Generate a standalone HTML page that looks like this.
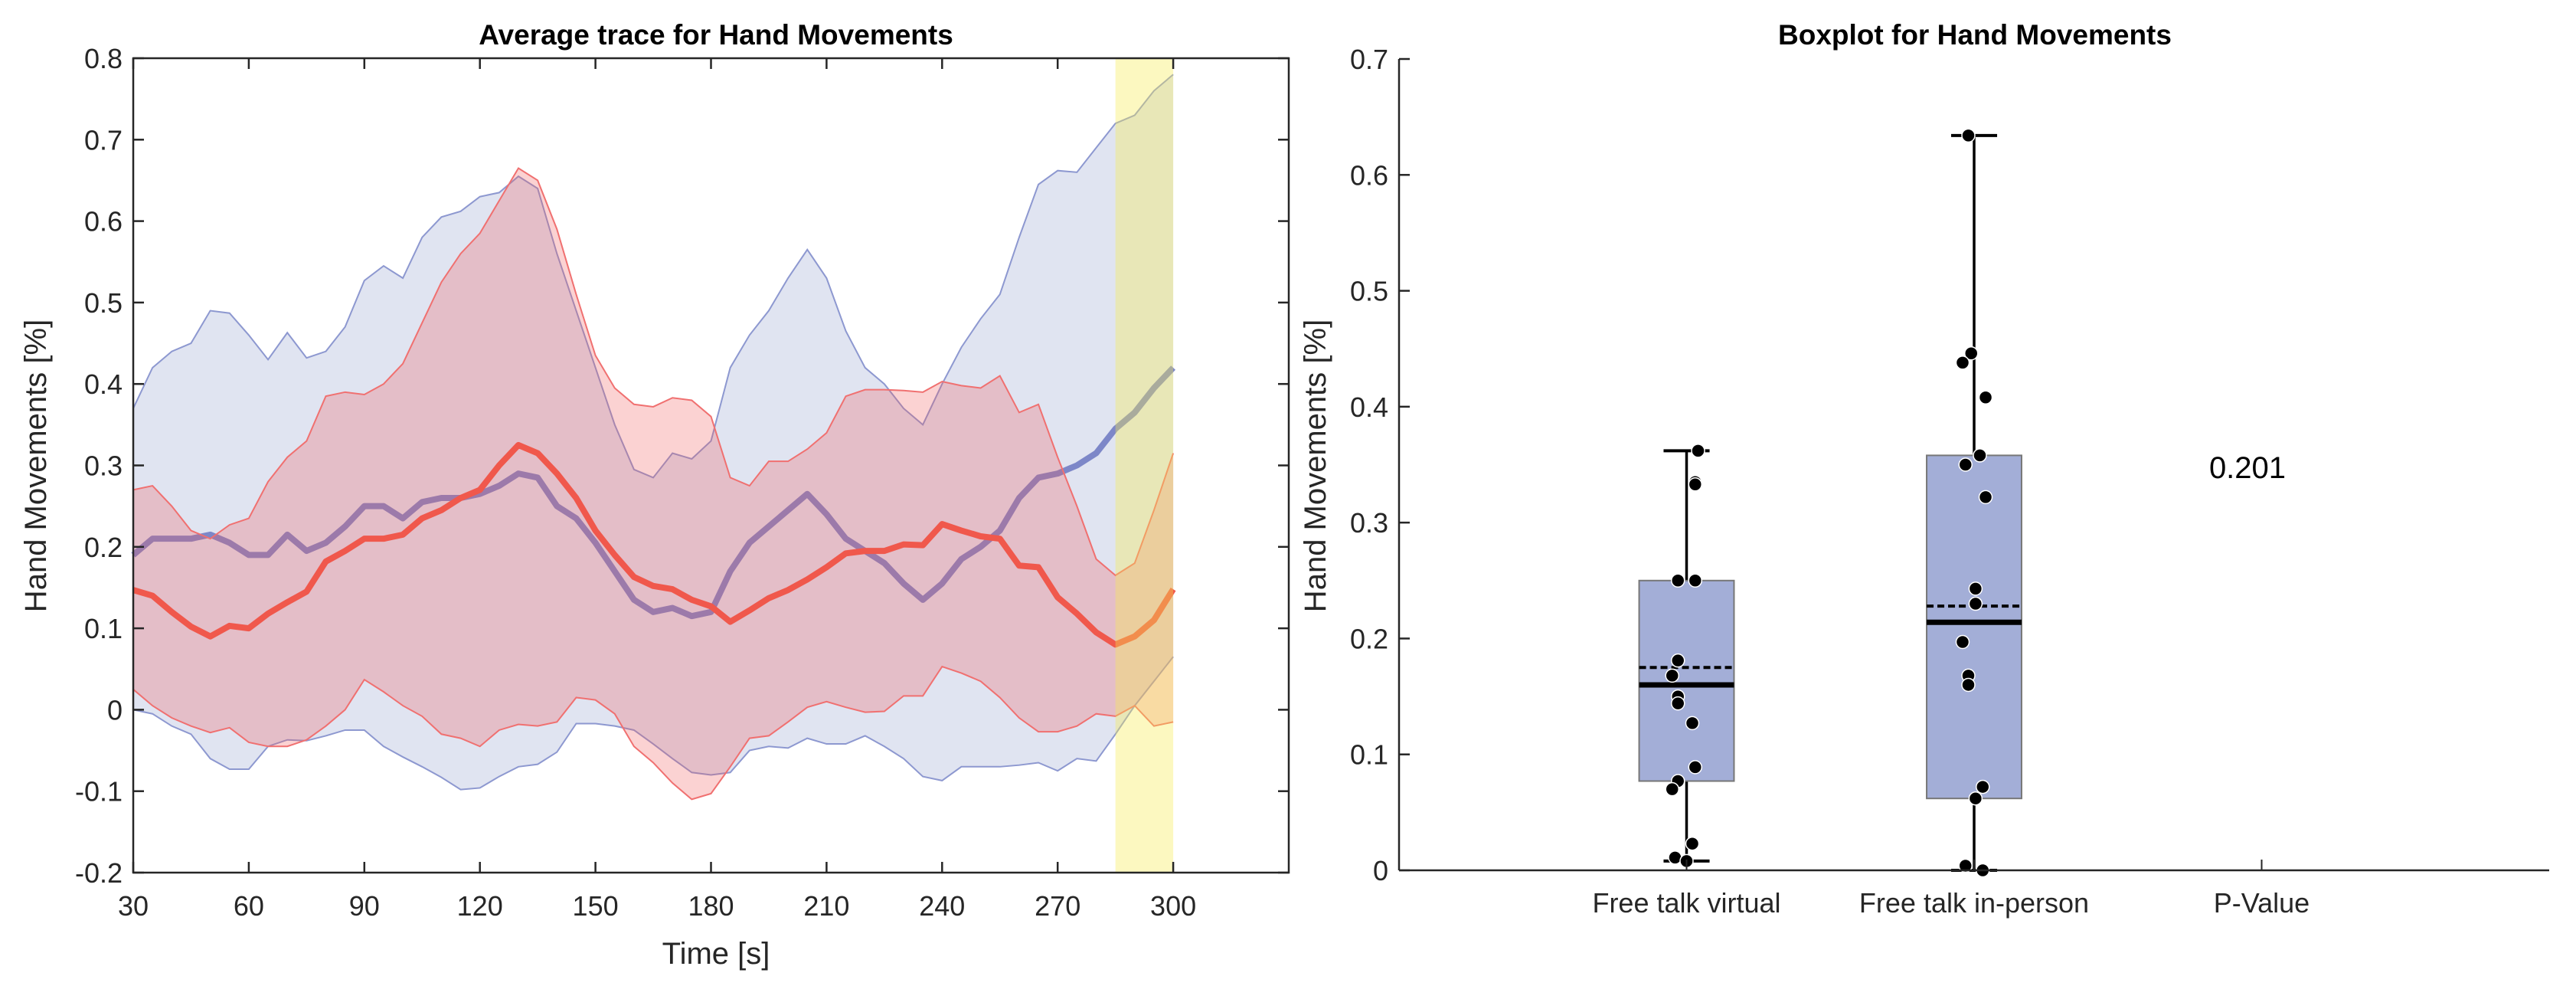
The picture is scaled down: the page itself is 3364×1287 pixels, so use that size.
<!DOCTYPE html>
<html><head><meta charset="utf-8"><style>
html,body{margin:0;padding:0;background:#fff;}
svg{display:block;font-family:"Liberation Sans",Arial,sans-serif;}
</style></head><body>
<svg id="chart" width="3364" height="1287" viewBox="0 0 3364 1287"></svg>
<script>
// ---- Left chart data ----
const times = [30,35,40,45,50,55,60,65,70,75,80,85,90,95,100,105,110,115,120,125,130,135,140,145,150,155,160,165,170,175,180,185,190,195,200,205,210,215,220,225,230,235,240,245,250,255,260,265,270,275,280,285,290,295,300];
const blueMean = [0.19,0.21,0.21,0.21,0.215,0.205,0.19,0.19,0.215,0.195,0.205,0.225,0.25,0.25,0.235,0.255,0.26,0.26,0.265,0.275,0.29,0.285,0.25,0.235,0.205,0.17,0.135,0.12,0.125,0.115,0.12,0.17,0.205,0.225,0.245,0.265,0.24,0.21,0.195,0.18,0.155,0.135,0.155,0.185,0.2,0.22,0.26,0.285,0.29,0.3,0.315,0.345,0.365,0.395,0.42];
const redMean = [0.147,0.14,0.12,0.102,0.09,0.103,0.1,0.118,0.132,0.145,0.182,0.195,0.21,0.21,0.215,0.235,0.245,0.26,0.27,0.3,0.325,0.315,0.29,0.26,0.22,0.19,0.163,0.152,0.148,0.135,0.127,0.108,0.122,0.137,0.147,0.16,0.175,0.192,0.195,0.195,0.203,0.202,0.228,0.22,0.213,0.21,0.177,0.175,0.138,0.118,0.095,0.08,0.09,0.11,0.148];
const blueUpper = [0.37,0.42,0.44,0.45,0.49,0.487,0.46,0.43,0.463,0.432,0.44,0.47,0.527,0.545,0.53,0.58,0.605,0.612,0.63,0.635,0.655,0.64,0.56,0.49,0.42,0.35,0.295,0.285,0.315,0.308,0.33,0.42,0.46,0.49,0.53,0.565,0.53,0.465,0.42,0.4,0.37,0.35,0.4,0.445,0.48,0.51,0.58,0.645,0.662,0.66,0.69,0.72,0.73,0.76,0.78];
const blueLower = [0.0,-0.005,-0.02,-0.03,-0.06,-0.073,-0.073,-0.045,-0.037,-0.038,-0.032,-0.025,-0.025,-0.045,-0.058,-0.07,-0.083,-0.098,-0.096,-0.082,-0.07,-0.067,-0.052,-0.017,-0.017,-0.02,-0.025,-0.042,-0.06,-0.077,-0.08,-0.077,-0.05,-0.045,-0.047,-0.035,-0.042,-0.042,-0.032,-0.045,-0.06,-0.082,-0.087,-0.07,-0.07,-0.07,-0.068,-0.065,-0.075,-0.06,-0.063,-0.03,0.005,0.035,0.065];
const redUpper = [0.27,0.275,0.25,0.22,0.21,0.227,0.235,0.28,0.31,0.33,0.385,0.39,0.387,0.4,0.425,0.475,0.525,0.56,0.585,0.625,0.665,0.65,0.59,0.51,0.435,0.395,0.375,0.372,0.383,0.38,0.36,0.285,0.275,0.305,0.305,0.32,0.34,0.385,0.393,0.393,0.392,0.39,0.403,0.398,0.395,0.41,0.365,0.375,0.31,0.25,0.185,0.165,0.18,0.245,0.315];
const redLower = [0.025,0.005,-0.01,-0.02,-0.028,-0.022,-0.04,-0.045,-0.045,-0.037,-0.02,0.0,0.037,0.022,0.005,-0.008,-0.03,-0.035,-0.045,-0.025,-0.018,-0.02,-0.015,0.015,0.012,-0.005,-0.045,-0.065,-0.09,-0.11,-0.103,-0.07,-0.035,-0.032,-0.015,0.003,0.01,0.003,-0.003,-0.002,0.017,0.017,0.053,0.045,0.035,0.015,-0.01,-0.027,-0.027,-0.02,-0.005,-0.008,0.005,-0.02,-0.015];
const highlightRange = [285,300];
const leftXTicks = [30,60,90,120,150,180,210,240,270,300];
const leftYTicks = [-0.2,-0.1,0,0.1,0.2,0.3,0.4,0.5,0.6,0.7,0.8];

// ---- Right chart data ----
const categories = ["Free talk virtual","Free talk in-person","P-Value"];
const boxQ1 = [0.077,0.062];
const boxQ3 = [0.25,0.358];
const boxMedian = [0.16,0.214];
const boxMean = [0.175,0.228];
const whiskLow = [0.008,0.0];
const whiskHigh = [0.362,0.634];
const pointsVirtual = [0.362,0.335,0.333,0.25,0.25,0.181,0.168,0.15,0.144,0.127,0.089,0.077,0.07,0.023,0.011,0.008];
const jitterVirtual = [0.04,0.03,0.03,-0.03,0.03,-0.03,-0.05,-0.03,-0.03,0.02,0.03,-0.03,-0.05,0.02,-0.04,0.0];
const pointsInPerson = [0.634,0.446,0.438,0.408,0.358,0.35,0.322,0.243,0.23,0.197,0.168,0.16,0.072,0.062,0.004,0.0];
const jitterInPerson = [-0.02,-0.01,-0.04,0.04,0.02,-0.03,0.04,0.005,0.005,-0.04,-0.02,-0.02,0.03,0.005,-0.03,0.03];
const pValueText = "0.201";
const rightYTicks = [0,0.1,0.2,0.3,0.4,0.5,0.6,0.7];

const NS = "http://www.w3.org/2000/svg";
const svg = document.getElementById("chart");
function mk(tag, attrs, parent, text) {
  const e = document.createElementNS(NS, tag);
  for (const k in attrs) e.setAttribute(k, attrs[k]);
  if (text !== undefined) e.textContent = text;
  (parent || svg).appendChild(e);
  return e;
}

// ===== LEFT =====
const L = {x0:174, x1:1683, y0:76, y1:1139};
const lx = t => L.x0 + (t - 30) / (330 - 30) * (L.x1 - L.x0);
const ly = v => L.y1 - (v + 0.2) / 1.0 * (L.y1 - L.y0);
const gL = mk("g", {});



function bandPath(up, lo) {
  let d = "M" + times.map((t,i)=>lx(t)+","+ly(up[i])).join("L");
  for (let i = times.length-1; i >= 0; i--) d += "L" + lx(times[i]) + "," + ly(lo[i]);
  return d + "Z";
}
function linePath(arr) { return "M" + times.map((t,i)=>lx(t)+","+ly(arr[i])).join("L"); }

let e;
e = mk("path", {d: bandPath(blueUpper, blueLower), fill:"rgb(160,170,210)", "fill-opacity":0.32, stroke:"none"}, gL);


e = mk("path", {d: linePath(blueUpper), fill:"none", stroke:"#8d98d0", "stroke-width":2}, gL);


e = mk("path", {d: linePath(blueLower), fill:"none", stroke:"#8d98d0", "stroke-width":2}, gL);


e = mk("path", {d: linePath(blueMean), fill:"none", stroke:"rgb(125,135,200)", "stroke-width":8, "stroke-linejoin":"round"}, gL);


e = mk("path", {d: bandPath(redUpper, redLower), fill:"rgb(240,90,90)", "fill-opacity":0.27, stroke:"none"}, gL);


e = mk("path", {d: linePath(redUpper), fill:"none", stroke:"#f07070", "stroke-width":2}, gL);


e = mk("path", {d: linePath(redLower), fill:"none", stroke:"#f07070", "stroke-width":2}, gL);


e = mk("path", {d: linePath(redMean), fill:"none", stroke:"#f0584c", "stroke-width":8, "stroke-linejoin":"round"}, gL);


e = mk("rect", {x: lx(highlightRange[0]), y: L.y0, width: lx(highlightRange[1]) - lx(highlightRange[0]), height: L.y1 - L.y0, fill:"rgb(248,236,80)", "fill-opacity":0.36}, gL);



e = mk("rect", {x:L.x0, y:L.y0, width:L.x1-L.x0, height:L.y1-L.y0, fill:"none", stroke:"#262626", "stroke-width":2.5}, gL);


leftXTicks.forEach(t => {
  const x = lx(t);
  mk("line", {x1:x, x2:x, y1:L.y1, y2:L.y1-14, stroke:"#262626", "stroke-width":2.5}, gL);
  mk("line", {x1:x, x2:x, y1:L.y0, y2:L.y0+14, stroke:"#262626", "stroke-width":2.5}, gL);
  const tx = mk("text", {x:x, y:1195, "font-size":36, fill:"#262626", "text-anchor":"middle"}, gL, String(t));
  
  
});
leftYTicks.forEach(v => {
  const y = ly(v);
  mk("line", {x1:L.x0, x2:L.x0+14, y1:y, y2:y, stroke:"#262626", "stroke-width":2.5}, gL);
  mk("line", {x1:L.x1, x2:L.x1-14, y1:y, y2:y, stroke:"#262626", "stroke-width":2.5}, gL);
  const tx = mk("text", {x:L.x0-14, y:y+13, "font-size":36, fill:"#262626", "text-anchor":"end"}, gL, String(Math.round(v*10)/10));
  
  
});
e = mk("text", {x:935, y:1258, "font-size":40, fill:"#262626", "text-anchor":"middle"}, gL, "Time [s]");


e = mk("text", {x:0, y:0, "font-size":40, fill:"#262626", "text-anchor":"middle", transform:"translate(60,608) rotate(-90)"}, gL, "Hand Movements [%]");


e = mk("text", {x:935, y:58, "font-size":37, "font-weight":"bold", fill:"#000", "text-anchor":"middle"}, gL, "Average trace for Hand Movements");



// ===== RIGHT =====
const R = {x0:1827, x1:3329, y0:77, y1:1136};
const rx = c => R.x0 + c / 4 * (R.x1 - R.x0);
const ry = v => R.y1 - v / 0.7 * (R.y1 - R.y0);
const gR = mk("g", {});



const pts = [pointsVirtual, pointsInPerson];
const jit = [jitterVirtual, jitterInPerson];
[0,1].forEach(i => {
  const c = rx(i+1), hw = (rx(0.165) - rx(0)), cw = (rx(0.08) - rx(0));
  const g = mk("g", {}, gR);
  
  
  mk("line", {x1:c, x2:c, y1:ry(whiskLow[i]), y2:ry(boxQ1[i]), stroke:"#000", "stroke-width":3.5}, g);
  mk("line", {x1:c, x2:c, y1:ry(boxQ3[i]), y2:ry(whiskHigh[i]), stroke:"#000", "stroke-width":3.5}, g);
  mk("line", {x1:c-cw, x2:c+cw, y1:ry(whiskLow[i]), y2:ry(whiskLow[i]), stroke:"#000", "stroke-width":4}, g);
  mk("line", {x1:c-cw, x2:c+cw, y1:ry(whiskHigh[i]), y2:ry(whiskHigh[i]), stroke:"#000", "stroke-width":4}, g);
  mk("rect", {x:c-hw, y:ry(boxQ3[i]), width:2*hw, height:ry(boxQ1[i])-ry(boxQ3[i]), fill:"#a3aed7", stroke:"#777", "stroke-width":2}, g);
  mk("line", {x1:c-hw, x2:c+hw, y1:ry(boxMedian[i]), y2:ry(boxMedian[i]), stroke:"#000", "stroke-width":7}, g);
  mk("line", {x1:c-hw, x2:c+hw, y1:ry(boxMean[i]), y2:ry(boxMean[i]), stroke:"#000", "stroke-width":4, "stroke-dasharray":"9,5"}, g);
  pts[i].forEach((v, k) => {
    const p = mk("circle", {cx: c + (rx(jit[i][k]) - rx(0)), cy: ry(v), r:8.5, fill:"#000", stroke:"#fff", "stroke-width":1.5}, g);
    
    
  });
});

e = mk("line", {x1:R.x0, x2:R.x0, y1:R.y0, y2:R.y1, stroke:"#262626", "stroke-width":2.5}, gR);


e = mk("line", {x1:R.x0, x2:R.x1, y1:R.y1, y2:R.y1, stroke:"#262626", "stroke-width":2.5}, gR);


rightYTicks.forEach(v => {
  const y = ry(v);
  mk("line", {x1:R.x0, x2:R.x0+14, y1:y, y2:y, stroke:"#262626", "stroke-width":2.5}, gR);
  const tx = mk("text", {x:R.x0-14, y:y+13, "font-size":36, fill:"#262626", "text-anchor":"end"}, gR, String(Math.round(v*10)/10));
  
  
});
categories.forEach((c, i) => {
  const x = rx(i+1);
  mk("line", {x1:x, x2:x, y1:R.y1, y2:R.y1-14, stroke:"#262626", "stroke-width":2}, gR);
  const tx = mk("text", {x:x, y:1191, "font-size":36, fill:"#262626", "text-anchor":"middle"}, gR, c);
  
  
});
e = mk("text", {x:2935, y:624, "font-size":40, fill:"#000", "text-anchor":"middle"}, gR, pValueText);


e = mk("text", {x:0, y:0, "font-size":40, fill:"#262626", "text-anchor":"middle", transform:"translate(1731,608) rotate(-90)"}, gR, "Hand Movements [%]");


e = mk("text", {x:2579, y:58, "font-size":37, "font-weight":"bold", fill:"#000", "text-anchor":"middle"}, gR, "Boxplot for Hand Movements");


</script>
</body></html>
